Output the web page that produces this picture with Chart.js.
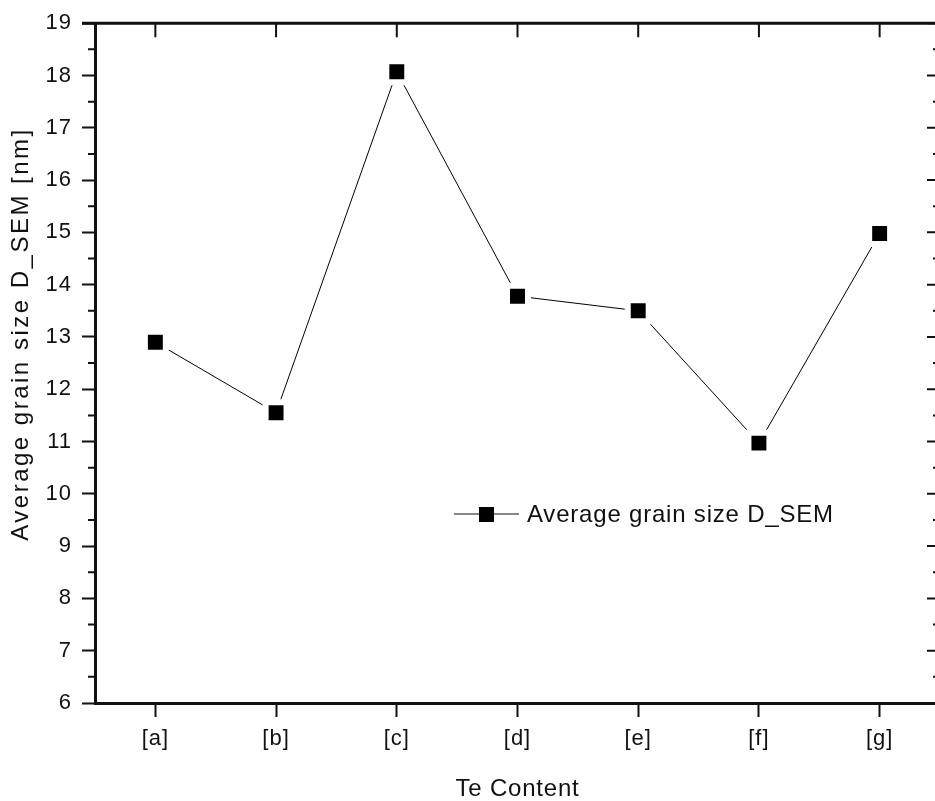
<!DOCTYPE html>
<html>
<head>
<meta charset="utf-8">
<script src="https://cdn.jsdelivr.net/npm/chart.js@4/dist/chart.umd.min.js"></script>
<style>
  html,body{margin:0;padding:0;background:#fff;overflow:hidden;}
  #wrap{position:relative;width:945px;height:801px;}
</style>
</head>
<body>
<div id="wrap"><canvas id="c" width="945" height="801"></canvas></div>
<script>
const categories = ['[a]','[b]','[c]','[d]','[e]','[f]','[g]'];
const grainSize = [12.9, 11.55, 18.07, 13.78, 13.5, 10.97, 14.98];
const yTicks = [6,7,8,9,10,11,12,13,14,15,16,17,18,19];
const seriesLabel = 'Average grain size D_SEM';
const xTitle = 'Te Content';
const yTitle = 'Average grain size D_SEM [nm]';

const FONT = 'Liberation Sans, Arial, sans-serif';
const INK = '#111';

function setSpacing(ctx, v) { if ('letterSpacing' in ctx) ctx.letterSpacing = v; }

const framePlugin = {
  id: 'frame',
  beforeLayout(chart) { setSpacing(chart.ctx, '1px'); },
  beforeDraw(chart) { setSpacing(chart.ctx, '1px'); },
  afterDraw(chart) {
    const ctx = chart.ctx;
    const a = chart.chartArea;
    const xs = chart.scales.x, ys = chart.scales.y;
    ctx.save();
    ctx.strokeStyle = INK;
    ctx.lineCap = 'butt';
    // top and right frame lines
    ctx.lineWidth = 3;
    ctx.beginPath();
    ctx.moveTo(a.left - 13, a.top); ctx.lineTo(a.right + 3, a.top);
    ctx.moveTo(a.right, a.top); ctx.lineTo(a.right, a.bottom);
    ctx.stroke();
    // top inward ticks at categories
    ctx.lineWidth = 2;
    ctx.beginPath();
    categories.forEach((c, i) => {
      const x = xs.getPixelForValue(i);
      ctx.moveTo(x, a.top); ctx.lineTo(x, a.top + 14);
    });
    // right inward major ticks
    yTicks.forEach(v => {
      const y = ys.getPixelForValue(v);
      ctx.moveTo(a.right, y); ctx.lineTo(a.right - 13, y);
    });
    // minor ticks left (outward) and right (inward)
    for (let i = 0; i < yTicks.length - 1; i++) {
      const y = ys.getPixelForValue((yTicks[i] + yTicks[i+1]) / 2);
      ctx.moveTo(a.left, y); ctx.lineTo(a.left - 7, y);
      ctx.moveTo(a.right, y); ctx.lineTo(a.right - 7, y);
    }
    ctx.stroke();

    // axis titles
    ctx.fillStyle = INK;
    ctx.font = '24px ' + FONT;
    ctx.textAlign = 'center';
    ctx.textBaseline = 'middle';
    setSpacing(ctx, '0.8px');
    ctx.fillText(xTitle, (a.left + a.right) / 2, 789);
    ctx.save();
    ctx.translate(21, 334);
    ctx.rotate(-Math.PI / 2);
    setSpacing(ctx, '2.5px');
    ctx.fillText(yTitle, 0, 0);
    ctx.restore();

    // legend
    const lx = 454, ly = 514;
    ctx.lineWidth = 1;
    ctx.beginPath();
    ctx.moveTo(lx, ly); ctx.lineTo(lx + 25, ly);
    ctx.moveTo(lx + 40, ly); ctx.lineTo(lx + 65, ly);
    ctx.stroke();
    ctx.fillStyle = '#000';
    ctx.fillRect(lx + 25, ly - 7, 15, 15);
    ctx.fillStyle = INK;
    ctx.font = '24px ' + FONT;
    ctx.textAlign = 'left';
    ctx.textBaseline = 'middle';
    setSpacing(ctx, '0.8px');
    ctx.fillText(seriesLabel, lx + 73, ly + 1);
    ctx.restore();
    setSpacing(ctx, '1px');
  }
};

new Chart(document.getElementById('c'), {
  type: 'line',
  data: {
    labels: categories,
    datasets: [{
      label: seriesLabel,
      data: grainSize,
      borderColor: '#000',
      borderWidth: 1,
      backgroundColor: '#000',
      pointStyle: 'rect',
      pointRadius: 14.8,
      pointHoverRadius: 14.8,
      pointBackgroundColor: '#000',
      pointBorderColor: '#fff',
      pointBorderWidth: 6,
      tension: 0,
      fill: false
    }]
  },
  options: {
    responsive: false,
    animation: false,
    devicePixelRatio: 1,
    layout: { autoPadding: false, padding: { left: 0, right: 5, top: 23, bottom: 0 } },
    plugins: { legend: { display: false }, tooltip: { enabled: false } },
    scales: {
      x: {
        type: 'category',
        offset: true,
        grid: { display: true, drawOnChartArea: false, drawTicks: true, tickLength: 14, tickWidth: 2, tickColor: INK, offset: false },
        border: { display: true, color: INK, width: 3 },
        ticks: { color: INK, font: { family: FONT, size: 22 }, padding: 9, maxRotation: 0 },
        title: { display: false },
        afterFit(s) { s.height = 98; }
      },
      y: {
        type: 'linear',
        min: 6, max: 19,
        afterBuildTicks(s) { s.ticks = yTicks.map(v => ({ value: v })); },
        grid: { display: true, drawOnChartArea: false, drawTicks: true, tickLength: 13, tickWidth: 2, tickColor: INK },
        border: { display: true, color: INK, width: 3 },
        ticks: { color: INK, font: { family: FONT, size: 22 }, padding: 10 },
        title: { display: false },
        afterFit(s) { s.width = 95; }
      }
    }
  },
  plugins: [framePlugin]
});
</script>
</body>
</html>
